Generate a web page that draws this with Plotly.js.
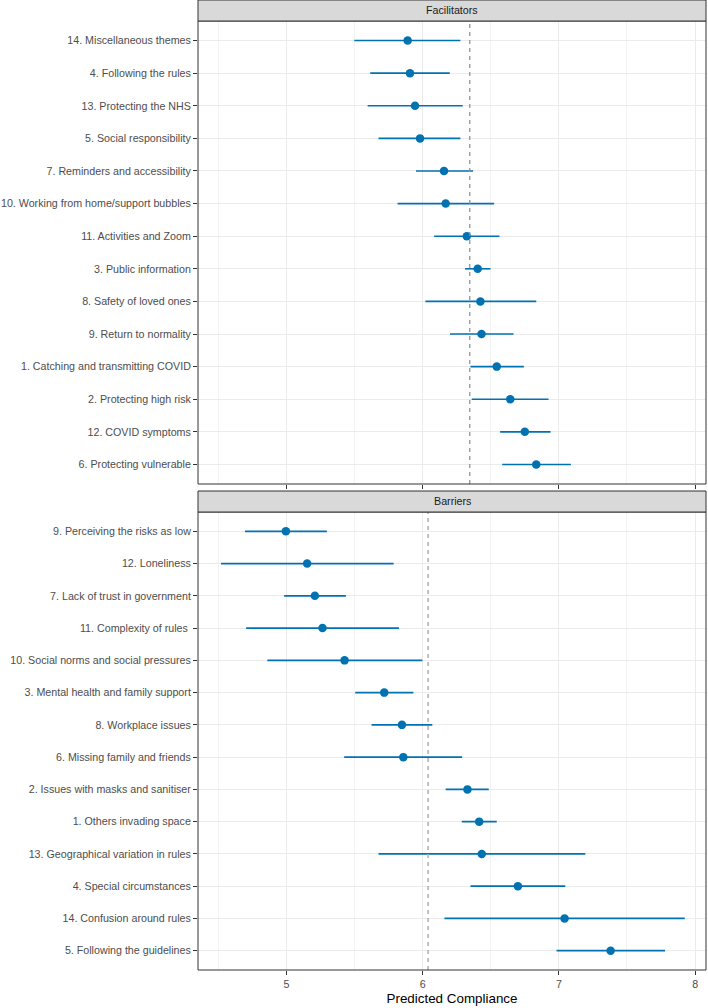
<!DOCTYPE html>
<html>
<head>
<meta charset="utf-8">
<script src="https://cdn.plot.ly/plotly-3.0.1.min.js"></script>
<style>html,body{margin:0;padding:0;background:#fff}#chart{width:708px;height:1008px}</style>
</head>
<body>
<div id="chart"></div>
<script>
// Facilitators (top to bottom)
const facLabels = [
  "14. Miscellaneous themes",
  "4. Following the rules",
  "13. Protecting the NHS",
  "5. Social responsibility",
  "7. Reminders and accessibility",
  "10. Working from home/support bubbles",
  "11. Activities and Zoom",
  "3. Public information",
  "8. Safety of loved ones",
  "9. Return to normality",
  "1. Catching and transmitting COVID",
  "2. Protecting high risk",
  "12. COVID symptoms",
  "6. Protecting vulnerable"
];
const facMean = [5.89, 5.907, 5.944, 5.981, 6.157, 6.169, 6.324, 6.404, 6.424, 6.432, 6.544, 6.643, 6.750, 6.834];
const facLow  = [5.498, 5.615, 5.596, 5.676, 5.951, 5.816, 6.084, 6.311, 6.020, 6.201, 6.351, 6.360, 6.569, 6.584];
const facHigh = [6.277, 6.199, 6.294, 6.277, 6.370, 6.525, 6.564, 6.498, 6.834, 6.667, 6.743, 6.924, 6.939, 7.088];

// Barriers (top to bottom)
const barLabels = [
  "9. Perceiving the risks as low",
  "12. Loneliness",
  "7. Lack of trust in government",
  "11. Complexity of rules\u00a0",
  "10. Social norms and social pressures",
  "3. Mental health and family support",
  "8. Workplace issues",
  "6. Missing family and friends",
  "2. Issues with masks and sanitiser",
  "1. Others invading space",
  "13. Geographical variation in rules",
  "4. Special circumstances",
  "14. Confusion around rules",
  "5. Following the guidelines"
];
const barMean = [4.996, 5.152, 5.209, 5.265, 5.427, 5.718, 5.848, 5.858, 6.329, 6.415, 6.434, 6.699, 7.042, 7.380];
const barLow  = [4.696, 4.520, 4.983, 4.704, 4.860, 5.505, 5.625, 5.424, 6.169, 6.287, 5.676, 6.351, 6.160, 6.983];
const barHigh = [5.297, 5.787, 5.437, 5.826, 5.998, 5.932, 6.071, 6.290, 6.485, 6.544, 7.194, 7.047, 7.924, 7.779];

const panelNames = ["Facilitators", "Barriers"];
const refLines = [6.346, 6.040];
const xTicks = [5, 6, 7, 8];

const blue = "#0072B2";
const FONT = "Liberation Sans, Arial, sans-serif";
function trace(labels, mean, low, high, xa, ya) {
  return {
    type: "scatter", mode: "markers",
    x: mean, y: labels, xaxis: xa, yaxis: ya,
    marker: {color: blue, size: 8.5},
    error_x: {
      type: "data", symmetric: false,
      array: high.map((h, i) => h - mean[i]),
      arrayminus: low.map((l, i) => mean[i] - l),
      color: blue, thickness: 1.6, width: 0
    },
    hoverinfo: "x+y", showlegend: false
  };
}

const data = [
  trace(facLabels, facMean, facLow, facHigh, "x2", "y2"),
  trace(barLabels, barMean, barLow, barHigh, "x", "y")
];

const H = 970; // plot area height in px
const fy = v => (H - v) / H;
const facDom = [fy(484), fy(21)];
const barDom = [0, fy(512)];

const commonY = {
  type: "category", showgrid: true, gridcolor: "#EBEBEB", gridwidth: 1,
  ticks: "outside", ticklen: 4, tickcolor: "#333333", tickwidth: 1,
  tickfont: {family: FONT, size: 10.7, color: "#4D4D4D"},
  zeroline: false, showline: false, fixedrange: true
};
const commonX = {
  range: [4.351, 8.08], tickvals: xTicks, showgrid: true, gridcolor: "#EBEBEB", gridwidth: 1,
  minor: {dtick: 0.5, tick0: 4.5, showgrid: true, gridcolor: "#F0F0F0", gridwidth: 0.8, ticks: ""},
  ticks: "outside", ticklen: 4, tickcolor: "#333333", tickwidth: 1,
  tickfont: {family: FONT, size: 10.7, color: "#4D4D4D"},
  zeroline: false, showline: false, fixedrange: true
};

const layout = {
  width: 708, height: 1008,
  margin: {l: 198, r: 2, t: 0, b: 38},
  paper_bgcolor: "#fff", plot_bgcolor: "#fff",
  font: {family: FONT},
  xaxis: Object.assign({}, commonX, {anchor: "y",
    title: {text: "Predicted Compliance", font: {size: 13.4, color: "#000"}, standoff: 4}}),
  xaxis2: Object.assign({}, commonX, {anchor: "y2", matches: "x", showticklabels: false}),
  yaxis: Object.assign({}, commonY, {domain: barDom, categoryorder: "array", categoryarray: barLabels,
    range: [13.6, -0.6]}),
  yaxis2: Object.assign({}, commonY, {domain: facDom, categoryorder: "array", categoryarray: facLabels,
    range: [13.6, -0.6]}),
  shapes: [
    {type: "line", xref: "x2", yref: "y2 domain", x0: refLines[0], x1: refLines[0], y0: 0, y1: 1,
      line: {color: "#8C8C8C", width: 1.2, dash: "4px,4px"}},
    {type: "line", xref: "x", yref: "y domain", x0: refLines[1], x1: refLines[1], y0: 0, y1: 1,
      line: {color: "#B3B3B3", width: 1.6, dash: "4px,4px"}},
    // panel borders
    {type: "rect", xref: "paper", yref: "paper", x0: 0, x1: 1, y0: facDom[0], y1: facDom[1],
      line: {color: "#333333", width: 1}, fillcolor: "rgba(0,0,0,0)", layer: "above"},
    {type: "rect", xref: "paper", yref: "paper", x0: 0, x1: 1, y0: barDom[0], y1: barDom[1],
      line: {color: "#333333", width: 1}, fillcolor: "rgba(0,0,0,0)", layer: "above"},
    // strips
    {type: "rect", xref: "paper", yref: "paper", x0: 0, x1: 1, y0: facDom[1], y1: 1,
      line: {color: "#333333", width: 1}, fillcolor: "#D9D9D9", layer: "above"},
    {type: "rect", xref: "paper", yref: "paper", x0: 0, x1: 1, y0: fy(512), y1: fy(491),
      line: {color: "#333333", width: 1}, fillcolor: "#D9D9D9", layer: "above"}
  ],
  annotations: [
    {xref: "paper", yref: "paper", x: 0.5, y: (facDom[1] + 1) / 2, text: panelNames[0], showarrow: false,
      font: {size: 10.7, color: "#1A1A1A"}, yanchor: "middle"},
    {xref: "paper", yref: "paper", x: 0.5, y: (fy(512) + fy(491)) / 2, text: panelNames[1], showarrow: false,
      font: {size: 10.7, color: "#1A1A1A"}, yanchor: "middle"}
  ]
};

Plotly.newPlot("chart", data, layout, {displayModeBar: false, staticPlot: true});
</script>
</body>
</html>
